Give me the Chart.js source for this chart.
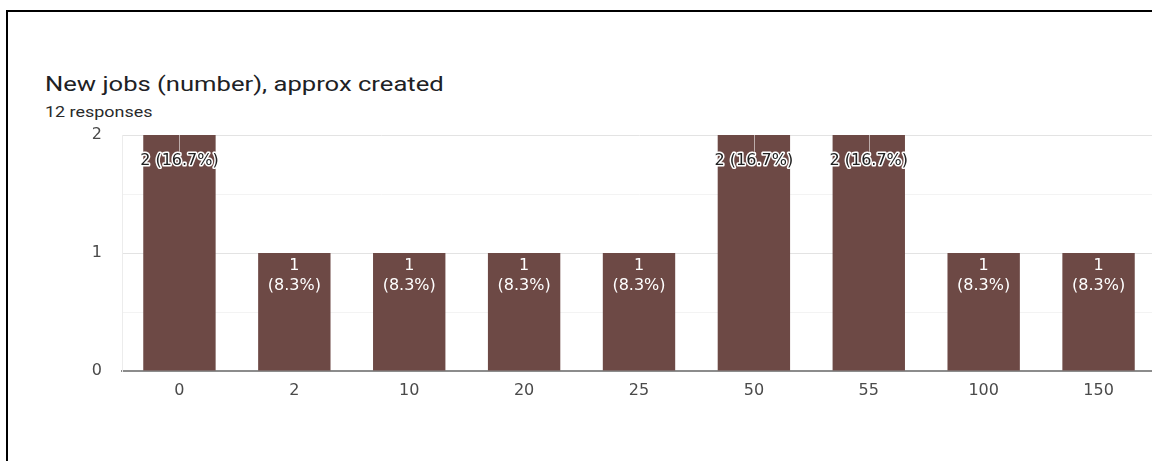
<!DOCTYPE html>
<html>
<head>
<meta charset="utf-8">
<script src="https://cdn.jsdelivr.net/npm/chart.js@4.4.1/dist/chart.umd.min.js"></script>
<style>
    html, body {margin: 0; padding: 0; background: #fff; overflow: hidden;}
    body {width: 1152px; height: 461px; position: relative;}
    .frame {position: absolute; left: 6px; top: 10px; width: 1400px; height: 600px; border-top: 2px solid #000; border-left: 2px solid #000;}
    .head {position: absolute; left: 45px; color: #202124; font-family: Roboto, sans-serif; white-space: nowrap; transform: scaleX(1.28); transform-origin: 0 50%;}
    .head.title {top: 71px; font-size: 20px; line-height: 26px;}
    .head.sub {top: 103px; font-size: 14px; line-height: 18px; color: #2a2a2a;}
    .chart-wrap {position: absolute; left: 0; top: 0; width: 1160px; height: 461px;}
</style>
</head>
<body>
<div class="frame"></div>
<div class="head title" id="title"></div>
<div class="head sub" id="sub"></div>
<div class="chart-wrap"><canvas id="chartJobs"></canvas></div>
<script>
    //data
    const chartTitle = 'New jobs (number), approx created';
    const categories = ['0', '2', '10', '20', '25', '50', '55', '100', '150'];
    const counts = [2, 1, 1, 1, 1, 2, 2, 1, 1];
    const yTicks = [0, 1, 2];

    const total = counts.reduce((a, b) => a + b, 0);
    document.getElementById('title').textContent = chartTitle;
    document.getElementById('sub').textContent = total + ' responses';

    const barColor = '#6d4945';
    const tickColor = '#4a4a4a';
    const labelFont = '"DejaVu Sans", sans-serif';

    //bar labels: "n (p%)"
    const barLabels = {
        id: 'barLabels',
        afterDatasetsDraw(chart) {
            const {ctx} = chart;
            const meta = chart.getDatasetMeta(0);
            ctx.save();
            ctx.font = '16px ' + labelFont;
            ctx.textAlign = 'center';
            ctx.textBaseline = 'middle';
            meta.data.forEach((bar, i) => {
                const n = counts[i];
                const pct = '(' + (n / total * 100).toFixed(1) + '%)';
                const top = bar.y;
                if (n === Math.max(...counts)) {
                    // label wider than the bar: dark text with a white halo and a stem
                    ctx.strokeStyle = 'rgba(255,255,255,0.55)';
                    ctx.lineWidth = 1;
                    ctx.beginPath();
                    ctx.moveTo(Math.round(bar.x) + 0.5, top);
                    ctx.lineTo(Math.round(bar.x) + 0.5, top + 17);
                    ctx.stroke();
                    const txt = n + ' ' + pct;
                    ctx.lineJoin = 'round';
                    ctx.lineWidth = 3;
                    ctx.strokeStyle = '#fff';
                    ctx.strokeText(txt, bar.x, top + 26);
                    ctx.fillStyle = '#222';
                    ctx.fillText(txt, bar.x, top + 26);
                } else {
                    ctx.fillStyle = '#fff';
                    ctx.fillText(String(n), bar.x, top + 13);
                    ctx.fillText(pct, bar.x, top + 33);
                }
            });
            ctx.restore();
        }
    };

    const ctxJobs = document.getElementById('chartJobs').getContext('2d');
    new Chart(ctxJobs, {
        type: 'bar',
        data: {
            labels: categories,
            datasets: [{
                data: counts,
                backgroundColor: barColor,
                hoverBackgroundColor: barColor,
                borderWidth: 0,
                barPercentage: 0.63,
                categoryPercentage: 1
            }]
        },
        options: {
            responsive: true,
            maintainAspectRatio: false,
            animation: false,
            layout: {
                padding: {left: 45, right: 4, top: 135, bottom: 50}
            },
            plugins: {
                legend: {display: false},
                tooltip: {enabled: false}
            },
            scales: {
                x: {
                    grid: {display: false, drawTicks: false},
                    border: {display: true, color: '#8c8c8c', width: 2},
                    afterFit(scale) { scale.height = 40; },
                    ticks: {
                        padding: 10,
                        color: tickColor,
                        font: {family: labelFont, size: 16}
                    }
                },
                y: {
                    min: yTicks[0],
                    max: yTicks[yTicks.length - 1],
                    afterFit(scale) { scale.width = 77; },
                    ticks: {
                        stepSize: 0.5,
                        padding: 20,
                        color: tickColor,
                        font: {family: labelFont, size: 16},
                        callback: v => yTicks.includes(v) ? v : ''
                    },
                    grid: {
                        drawTicks: false,
                        color: c => Number.isInteger(c.tick.value) ? '#e3e3e3' : '#f3f3f3'
                    },
                    border: {display: true, color: '#ececec'}
                }
            }
        },
        plugins: [barLabels]
    });
</script>
</body>
</html>
